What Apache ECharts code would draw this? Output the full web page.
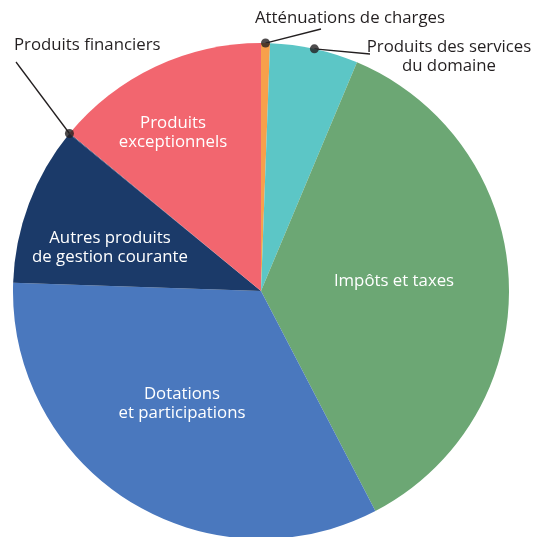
<!DOCTYPE html>
<html>
<head>
<meta charset="utf-8">
<script src="https://cdn.jsdelivr.net/npm/echarts@6/dist/echarts.min.js"></script>
<style>
  html, body { margin: 0; padding: 0; background: #fff; }
  #chart { width: 539px; height: 537px; }
</style>
</head>
<body>
<div id="chart"></div>
<script>
// data, clockwise from 12 o'clock
const categories = [
  "Atténuations de charges",
  "Produits des services du domaine",
  "Impôts et taxes",
  "Dotations et participations",
  "Autres produits de gestion courante",
  "Produits financiers",
  "Produits exceptionnels"
];
const labelTexts = [
  "Atténuations de charges",
  "Produits des services\ndu domaine",
  "Impôts et taxes",
  "Dotations\net participations",
  "Autres produits\nde gestion courante",
  "Produits financiers",
  "Produits\nexceptionnels"
];
const values = [0.58, 5.75, 36.06, 33.18, 10.4, 0.05, 14.03];
const colors = ["#f7a04b", "#5cc6c6", "#6ca774", "#4a78be", "#1b3a69", "#1b3a69", "#f2666f"];
const outside = [true, true, false, false, false, true, false];

// label placement (layout only)
const CX = 261, CY = 291, R = 248;
const labelPos = {
  0: { x: 255, y: 18, align: "left", end: [321, 29] },
  1: { x: 449, y: 57, align: "center", end: [370, 54] },
  2: { x: 394, y: 281 },
  3: { x: 182, y: 404 },
  4: { x: 110, y: 248 },
  5: { x: 14, y: 45, align: "left", end: [16, 62] },
  6: { x: 173, y: 133 }
};

const total = values.reduce((a, b) => a + b, 0);
let acc = 0;
const dotData = [];
values.forEach((v, i) => {
  if (outside[i]) dotData.push([1, acc + v / 2]);
  acc += v;
});

const chart = echarts.init(document.getElementById("chart"));

const option = {
  animation: false,
  polar: { center: [CX, CY], radius: R },
  angleAxis: { type: "value", min: 0, max: total, startAngle: 90, clockwise: true, show: false },
  radiusAxis: { type: "value", min: 0, max: 1, show: false },
  series: [
    {
      type: "pie",
      center: [CX, CY],
      radius: R,
      startAngle: 90,
      clockwise: true,
      avoidLabelOverlap: false,
      data: categories.map((name, i) => ({
        name: name,
        value: values[i],
        itemStyle: { color: colors[i] },
        label: outside[i]
          ? { position: "outside", color: "#231f20" }
          : { position: "inside", color: "#fff" },
        labelLine: { show: outside[i] }
      })),
      label: {
        formatter: (p) => labelTexts[p.dataIndex],
        fontFamily: "Open Sans",
        fontSize: 16.8,
        lineHeight: 19,
        align: "center"
      },
      labelLine: {
        lineStyle: { color: "#231f20", width: 1.3 }
      },
      labelLayout: (params) => {
        const pos = labelPos[params.dataIndex];
        const out = { x: pos.x, y: pos.y, align: pos.align || "center", verticalAlign: "middle" };
        if (pos.end && params.labelLinePoints) {
          const p0 = params.labelLinePoints[0];
          out.labelLinePoints = [p0, pos.end, pos.end];
        }
        return out;
      },
      emphasis: { disabled: true }
    },
    {
      type: "scatter",
      coordinateSystem: "polar",
      symbolSize: 9,
      itemStyle: { color: "#231f20" },
      z: 10,
      silent: true,
      data: dotData
    }
  ]
};

chart.setOption(option);
</script>
</body>
</html>
